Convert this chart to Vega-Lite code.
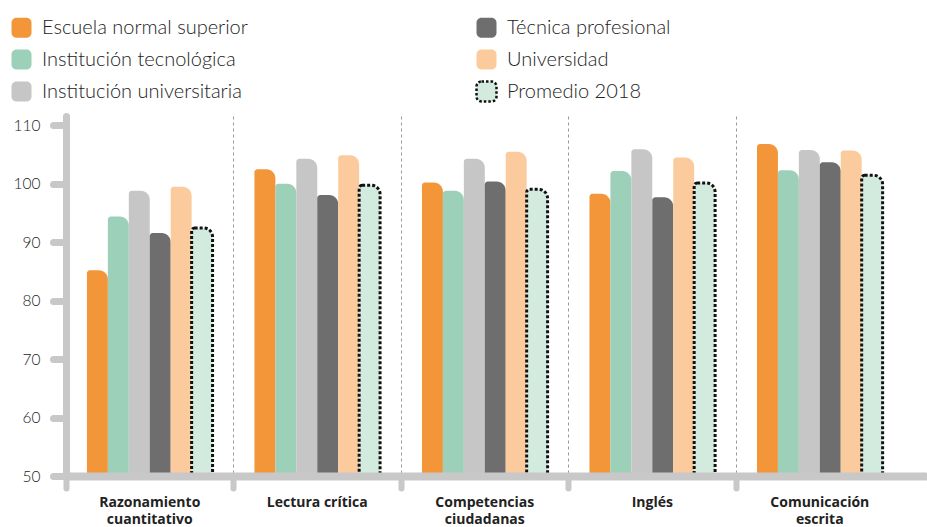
{
  "$schema": "https://vega.github.io/schema/vega-lite/v6.json",
  "width": 859,
  "height": 360,
  "autosize": {"type": "none"},
  "padding": {"left": 66, "top": 116, "right": 2, "bottom": 51},
  "background": "white",
  "config": {"view": {"stroke": null}, "font": "Lato"},
  "data": {
    "values": [
      {"materia": "Razonamiento cuantitativo", "tipo": "Escuela normal superior", "valor": 85.2},
      {"materia": "Razonamiento cuantitativo", "tipo": "Institución tecnológica", "valor": 94.4},
      {"materia": "Razonamiento cuantitativo", "tipo": "Institución universitaria", "valor": 98.8},
      {"materia": "Razonamiento cuantitativo", "tipo": "Técnica profesional", "valor": 91.6},
      {"materia": "Razonamiento cuantitativo", "tipo": "Universidad", "valor": 99.5},
      {"materia": "Razonamiento cuantitativo", "tipo": "Promedio 2018", "valor": 92.45},
      {"materia": "Lectura crítica", "tipo": "Escuela normal superior", "valor": 102.5},
      {"materia": "Lectura crítica", "tipo": "Institución tecnológica", "valor": 100.0},
      {"materia": "Lectura crítica", "tipo": "Institución universitaria", "valor": 104.3},
      {"materia": "Lectura crítica", "tipo": "Técnica profesional", "valor": 98.1},
      {"materia": "Lectura crítica", "tipo": "Universidad", "valor": 104.9},
      {"materia": "Lectura crítica", "tipo": "Promedio 2018", "valor": 99.75},
      {"materia": "Competencias ciudadanas", "tipo": "Escuela normal superior", "valor": 100.2},
      {"materia": "Competencias ciudadanas", "tipo": "Institución tecnológica", "valor": 98.8},
      {"materia": "Competencias ciudadanas", "tipo": "Institución universitaria", "valor": 104.3},
      {"materia": "Competencias ciudadanas", "tipo": "Técnica profesional", "valor": 100.4},
      {"materia": "Competencias ciudadanas", "tipo": "Universidad", "valor": 105.5},
      {"materia": "Competencias ciudadanas", "tipo": "Promedio 2018", "valor": 99.05},
      {"materia": "Inglés", "tipo": "Escuela normal superior", "valor": 98.3},
      {"materia": "Inglés", "tipo": "Institución tecnológica", "valor": 102.2},
      {"materia": "Inglés", "tipo": "Institución universitaria", "valor": 105.9},
      {"materia": "Inglés", "tipo": "Técnica profesional", "valor": 97.7},
      {"materia": "Inglés", "tipo": "Universidad", "valor": 104.5},
      {"materia": "Inglés", "tipo": "Promedio 2018", "valor": 100.15},
      {"materia": "Comunicación escrita", "tipo": "Escuela normal superior", "valor": 106.8},
      {"materia": "Comunicación escrita", "tipo": "Institución tecnológica", "valor": 102.3},
      {"materia": "Comunicación escrita", "tipo": "Institución universitaria", "valor": 105.8},
      {"materia": "Comunicación escrita", "tipo": "Técnica profesional", "valor": 103.7},
      {"materia": "Comunicación escrita", "tipo": "Universidad", "valor": 105.7},
      {"materia": "Comunicación escrita", "tipo": "Promedio 2018", "valor": 101.45}
    ]
  },
  "mark": {"type": "bar", "cornerRadiusTopRight": 9, "cornerRadiusTopLeft": 3, "strokeCap": "butt", "strokeWidth": 3, "strokeDash": [3, 2]},
  "encoding": {
    "x": {
      "field": "materia",
      "type": "nominal",
      "sort": ["Razonamiento cuantitativo", "Lectura crítica", "Competencias ciudadanas", "Inglés", "Comunicación escrita"],
      "scale": {"paddingInner": 0, "paddingOuter": 0.064, "align": 0},
      "axis": {
        "title": null,
        "bandPosition": 0,
        "labelAngle": 0,
        "domainColor": "#c8c8c8",
        "domainWidth": 8,
        "domainCap": "round",
        "tickColor": "#c8c8c8",
        "tickWidth": 6,
        "tickSize": 12,
        "tickCap": "round",
        "grid": true,
        "gridColor": "#9a9a9a",
        "gridDash": [3, 3],
        "gridWidth": 1,
        "labelFont": "Open Sans",
        "labelFontSize": 14,
        "labelFontWeight": "bold",
        "labelColor": "#222222",
        "labelPadding": 7,
        "labelLineHeight": 17,
        "labelExpr": "(datum.value == 'Lectura crítica' || datum.value == 'Inglés') ? datum.value : split(datum.value, ' ')",
        "zindex": 1
      }
    },
    "xOffset": {
      "field": "tipo",
      "type": "nominal",
      "sort": ["Escuela normal superior", "Institución tecnológica", "Institución universitaria", "Técnica profesional", "Universidad", "Promedio 2018"],
      "scale": {"paddingInner": 0, "paddingOuter": 1.2}
    },
    "y": {
      "field": "valor",
      "type": "quantitative",
      "scale": {"domain": [50, 111.6], "nice": false, "zero": false},
      "axis": {
        "title": null,
        "values": [50, 60, 70, 80, 90, 100, 110],
        "grid": false,
        "domainColor": "#c8c8c8",
        "domainWidth": 7,
        "domainCap": "round",
        "tickColor": "#c8c8c8",
        "tickWidth": 7,
        "tickSize": 13,
        "tickCap": "round",
        "labelFont": "Lato",
        "labelFontSize": 15.5,
        "labelFontWeight": 300,
        "labelColor": "#222222",
        "labelPadding": 13,
        "zindex": 2
      }
    },
    "y2": {"datum": 50},
    "fill": {
      "field": "tipo",
      "type": "nominal",
      "scale": {
        "domain": ["Escuela normal superior", "Técnica profesional", "Institución tecnológica", "Universidad", "Institución universitaria", "Promedio 2018"],
        "range": ["#f39539", "#6e6e6e", "#9dd0b9", "#fbcb9e", "#c6c6c6", "#d3eadf"]
      },
      "legend": {
        "title": null,
        "orient": "none",
        "legendX": -56,
        "legendY": -100,
        "columns": 2,
        "direction": "horizontal",
        "columnPadding": 223,
        "rowPadding": 1,
        "padding": 0,
        "symbolType": "M -0.5,-1 H 0.5 A 0.5 0.5 0 0 1 1,-0.5 V 0.5 A 0.5 0.5 0 0 1 0.5,1 H -0.5 A 0.5 0.5 0 0 1 -1,0.5 V -0.5 A 0.5 0.5 0 0 1 -0.5,-1 Z",
        "symbolSize": 400,
        "symbolOpacity": 1,
        "symbolStrokeWidth": 2.5,
        "symbolDash": [2.5, 2],
        "labelFont": "Lato",
        "labelFontSize": 20,
        "labelFontWeight": 300,
        "labelColor": "#222222",
        "labelOffset": 9,
        "labelLimit": 400
      }
    },
    "stroke": {
      "field": "tipo",
      "type": "nominal",
      "scale": {
        "domain": ["Escuela normal superior", "Técnica profesional", "Institución tecnológica", "Universidad", "Institución universitaria", "Promedio 2018"],
        "range": ["transparent", "transparent", "transparent", "transparent", "transparent", "#111111"]
      },
      "legend": {
        "title": null,
        "orient": "none",
        "legendX": -56,
        "legendY": -100,
        "columns": 2,
        "direction": "horizontal",
        "columnPadding": 223,
        "rowPadding": 1,
        "padding": 0,
        "symbolType": "M -0.5,-1 H 0.5 A 0.5 0.5 0 0 1 1,-0.5 V 0.5 A 0.5 0.5 0 0 1 0.5,1 H -0.5 A 0.5 0.5 0 0 1 -1,0.5 V -0.5 A 0.5 0.5 0 0 1 -0.5,-1 Z",
        "symbolSize": 400,
        "symbolOpacity": 1,
        "symbolStrokeWidth": 2.5,
        "symbolDash": [2.5, 2],
        "labelFont": "Lato",
        "labelFontSize": 20,
        "labelFontWeight": 300,
        "labelColor": "#222222",
        "labelOffset": 9,
        "labelLimit": 400
      }
    }
  }
}
